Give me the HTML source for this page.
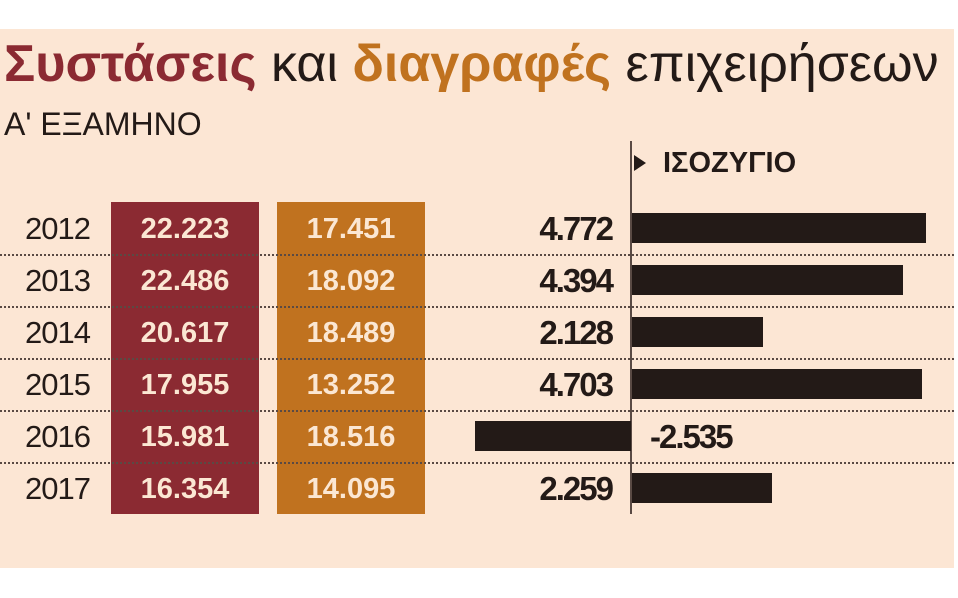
<!DOCTYPE html>
<html><head><meta charset="utf-8"><style>
body{margin:0;width:958px;height:598px;background:#fff;position:relative;overflow:hidden;font-family:"Liberation Sans",sans-serif;color:#231a17}
.bg{position:absolute;left:0;top:29px;width:954px;height:539px;background:#fce6d4}
.a{position:absolute;white-space:nowrap}
.dash{position:absolute;left:0;width:954px;border-top:2px dotted #5a4a44;height:0}
.box{position:absolute;top:202px;width:148px;height:312px}
.bv{position:absolute;width:148px;text-align:center;color:#fbe7d3;font-weight:bold;font-size:29px;line-height:30px}
.yr{position:absolute;left:25px;font-size:31px;line-height:30px;letter-spacing:-1px}
.bal{position:absolute;right:346px;font-size:33px;font-weight:bold;line-height:30px;letter-spacing:-2px;text-align:right}
.bar{position:absolute;height:30px;background:#231a17}
</style></head><body>
<div class="bg"></div>
<div class="a" style="left:4px;top:34px;font-size:52px;line-height:60px"><b style="color:#8b2a32">Συστάσεις</b> και <b style="color:#c0721f">διαγραφές</b> επιχειρήσεων</div>
<div class="a" style="left:4px;top:106px;font-size:32px;line-height:36px">Α' ΕΞΑΜΗΝΟ</div>
<div class="box" style="left:111px;background:#8b2a32"></div>
<div class="box" style="left:277px;background:#c0721f"></div>
<div class="dash" style="top:254px"></div><div class="dash" style="top:306px"></div><div class="dash" style="top:358px"></div><div class="dash" style="top:410px"></div><div class="dash" style="top:462px"></div>
<div class="a" style="left:630px;top:141px;width:2px;height:373px;background:#5a4a44"></div>
<div class="a" style="left:634px;top:155px;width:0;height:0;border-left:12px solid #231a17;border-top:8px solid transparent;border-bottom:8px solid transparent"></div>
<div class="a" style="left:663px;top:147px;font-size:29px;font-weight:bold;line-height:32px">ΙΣΟΖΥΓΙΟ</div>

<div class="yr" style="top:214px">2012</div><div class="yr" style="top:266px">2013</div><div class="yr" style="top:318px">2014</div><div class="yr" style="top:370px">2015</div><div class="yr" style="top:422px">2016</div><div class="yr" style="top:474px">2017</div>

<div class="bv" style="left:111px;top:214px">22.223</div><div class="bv" style="left:111px;top:266px">22.486</div><div class="bv" style="left:111px;top:318px">20.617</div><div class="bv" style="left:111px;top:370px">17.955</div><div class="bv" style="left:111px;top:422px">15.981</div><div class="bv" style="left:111px;top:474px">16.354</div>
<div class="bv" style="left:277px;top:214px">17.451</div><div class="bv" style="left:277px;top:266px">18.092</div><div class="bv" style="left:277px;top:318px">18.489</div><div class="bv" style="left:277px;top:370px">13.252</div><div class="bv" style="left:277px;top:422px">18.516</div><div class="bv" style="left:277px;top:474px">14.095</div>

<div class="bal" style="top:214px">4.772</div><div class="bal" style="top:266px">4.394</div><div class="bal" style="top:318px">2.128</div><div class="bal" style="top:370px">4.703</div><div class="bal" style="top:474px">2.259</div>
<div class="a" style="left:650px;top:422px;font-size:33px;font-weight:bold;line-height:30px;letter-spacing:-2px">-2.535</div>

<div class="bar" style="left:632px;top:213px;width:294px"></div>
<div class="bar" style="left:632px;top:265px;width:271px"></div>
<div class="bar" style="left:632px;top:317px;width:131px"></div>
<div class="bar" style="left:632px;top:369px;width:290px"></div>
<div class="bar" style="left:475px;top:421px;width:156px"></div>
<div class="bar" style="left:632px;top:473px;width:140px"></div>
</body></html>
